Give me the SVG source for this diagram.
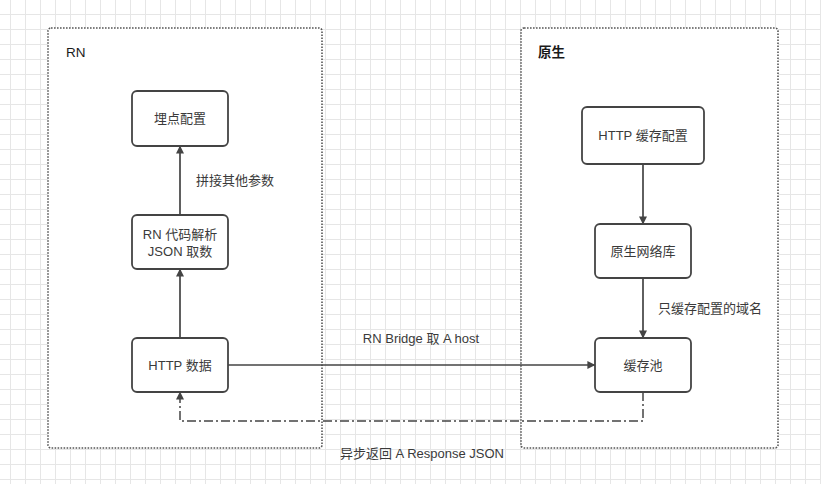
<svg xmlns="http://www.w3.org/2000/svg" width="821" height="484" viewBox="0 0 821 484">
<style>
  .node rect { fill: #ffffff; stroke: #444444; stroke-width: 1.8; }
  .container { fill: #ffffff; stroke: #555555; stroke-width: 1.6; stroke-dasharray: 1.6 1.4; }
  text { font-family: "Liberation Sans", "Noto Sans CJK SC", sans-serif; font-size: 13px; fill: #3a3a3a; }
  .title { font-size: 13.5px; fill: #1a1a1a; }
  .bold { font-weight: bold; }
  .edge { fill: none; stroke: #444444; stroke-width: 1.7; }
  .dashdot { stroke-dasharray: 9 3 2 3; stroke-width: 1.5; }
</style>
<defs>
  <pattern id="grid" x="10" y="14" width="15" height="15" patternUnits="userSpaceOnUse">
    <rect x="0" y="0" width="15" height="1" fill="#e6e6e6"/>
    <rect x="0" y="0" width="1" height="15" fill="#e6e6e6"/>
  </pattern>
  <marker id="arrowBig" viewBox="0 0 10 10" refX="9.5" refY="5" markerWidth="9" markerHeight="8" markerUnits="userSpaceOnUse" orient="auto">
    <path d="M0,0 L10,5 L0,10 Z" fill="#444444"/>
  </marker>
</defs>
<rect x="0" y="0" width="821" height="484" fill="#ffffff"/>
<rect x="0" y="0" width="821" height="484" fill="url(#grid)"/>

<g id="container-rn">
  <rect class="container" x="48" y="28" width="274" height="420" rx="3"/>
  <text class="title" x="66" y="57">RN</text>
</g>
<g id="container-native">
  <rect class="container" x="521" y="28" width="257" height="420" rx="3"/>
  <text class="title bold" x="538" y="57">原生</text>
</g>

<g id="connectors">
  <g id="edge-rn-to-maidian">
    <path class="edge" d="M180,215 L180,146" marker-end="url(#arrowBig)"/>
    <text x="196" y="185">拼接其他参数</text>
  </g>
  <g id="edge-http-to-rn">
    <path class="edge" d="M180,338 L180,269" marker-end="url(#arrowBig)"/>
  </g>
  <g id="edge-http-to-pool">
    <path class="edge" d="M228,365 L595,365" marker-end="url(#arrowBig)"/>
    <text x="421" y="343" text-anchor="middle">RN Bridge 取 A host</text>
  </g>
  <g id="edge-config-to-netlib">
    <path class="edge" d="M643,164 L643,224" marker-end="url(#arrowBig)"/>
  </g>
  <g id="edge-netlib-to-pool">
    <path class="edge" d="M643,278 L643,338" marker-end="url(#arrowBig)"/>
    <text x="658" y="313">只缓存配置的域名</text>
  </g>
  <g id="edge-pool-to-http">
    <path class="edge dashdot" d="M643,392 L643,421 L180,421 L180,392" marker-end="url(#arrowBig)"/>
    <text x="422" y="458" text-anchor="middle">异步返回 A Response JSON</text>
  </g>
</g>

<g id="node-maidian" class="node">
  <rect x="132" y="91" width="96" height="55" rx="5"/>
  <text x="180" y="123" text-anchor="middle">埋点配置</text>
</g>
<g id="node-rn-parse" class="node">
  <rect x="132" y="215" width="96" height="54" rx="5"/>
  <text x="180" y="239" text-anchor="middle">RN 代码解析</text>
  <text x="180" y="256" text-anchor="middle">JSON 取数</text>
</g>
<g id="node-http-data" class="node">
  <rect x="132" y="338" width="96" height="54" rx="5"/>
  <text x="180" y="370" text-anchor="middle">HTTP 数据</text>
</g>
<g id="node-http-cache-config" class="node">
  <rect x="582" y="107" width="122" height="57" rx="5"/>
  <text x="643" y="140" text-anchor="middle">HTTP 缓存配置</text>
</g>
<g id="node-native-netlib" class="node">
  <rect x="595" y="224" width="96" height="54" rx="5"/>
  <text x="643" y="256" text-anchor="middle">原生网络库</text>
</g>
<g id="node-cache-pool" class="node">
  <rect x="595" y="338" width="96" height="54" rx="5"/>
  <text x="643" y="370" text-anchor="middle">缓存池</text>
</g>
</svg>
